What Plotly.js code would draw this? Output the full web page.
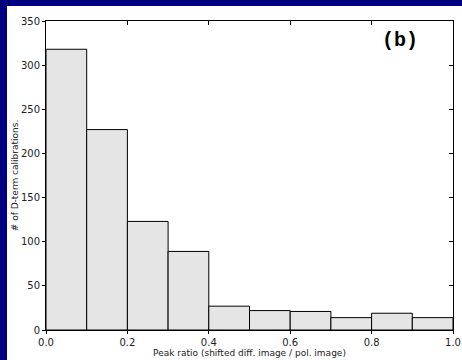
<!DOCTYPE html>
<html>
<head>
<meta charset="utf-8">
<script src="https://cdn.plot.ly/plotly-3.0.1.min.js"></script>
<style>html,body{margin:0;padding:0;background:#000080;}#chart{width:462px;height:360px;}</style>
</head>
<body>
<div id="chart"></div>
<script>
const binCenters = [0.05, 0.15, 0.25, 0.35, 0.45, 0.55, 0.65, 0.75, 0.85, 0.95];
const counts = [318, 227, 123, 89, 27, 22, 21, 14, 19, 14];
const xTicks = [0.0, 0.2, 0.4, 0.6, 0.8, 1.0];
const xTickText = ['0.0', '0.2', '0.4', '0.6', '0.8', '1.0'];
const yTicks = [0, 50, 100, 150, 200, 250, 300, 350];
const panelLabel = '(b)';
const xTitle = 'Peak ratio (shifted diff. image / pol. image)';
const yTitle = '# of D-term calibrations.';

const tickFont = {family: 'DejaVu Sans', size: 10, color: '#222'};
const data = [
  {type: 'bar', x: binCenters, y: counts, width: 0.1,
   marker: {color: '#e5e5e5', line: {color: '#000', width: 1}}, hoverinfo: 'none'},
  {type: 'scatter', x: [], y: [], xaxis: 'x2', yaxis: 'y2', showlegend: false}
];
const layout = {
  width: 462, height: 360,
  paper_bgcolor: '#000080', plot_bgcolor: '#ffffff',
  margin: {l: 46, r: 9, t: 21, b: 30},
  showlegend: false, bargap: 0,
  shapes: [{type: 'rect', xref: 'paper', yref: 'paper', layer: 'below',
    x0: -39/407, x1: 1 + 10/407, y0: -31/309, y1: 1 + 15/309,
    fillcolor: '#ffffff', line: {width: 0}}],
  xaxis: {range: [0, 1], tickvals: xTicks, ticktext: xTickText, ticks: 'outside', ticklen: 3,
    tickcolor: '#000', showline: true, linecolor: '#000', linewidth: 1, mirror: true,
    showgrid: false, zeroline: false, tickfont: tickFont,
    title: {text: xTitle, font: {family: 'DejaVu Sans', size: 9, color: '#222'}, standoff: 0}},
  yaxis: {range: [0, 350], tickvals: yTicks, ticks: 'outside', ticklen: 3, tickcolor: '#000',
    showline: true, linecolor: '#000', linewidth: 1, mirror: true,
    showgrid: false, zeroline: false, tickfont: tickFont,
    title: {text: yTitle, font: {family: 'DejaVu Sans', size: 9, color: '#222'}, standoff: 0}},
  xaxis2: {range: [0, 1], overlaying: 'x', side: 'top', tickvals: xTicks, ticks: 'inside',
    ticklen: 4, tickcolor: '#000', showticklabels: false, showgrid: false, zeroline: false, showline: false},
  yaxis2: {range: [0, 350], overlaying: 'y', side: 'right', tickvals: yTicks, ticks: 'inside',
    ticklen: 4, tickcolor: '#000', showticklabels: false, showgrid: false, zeroline: false, showline: false},
  annotations: [{text: '<b>' + panelLabel + '</b>', xref: 'x', yref: 'y', x: 0.87, y: 328,
    showarrow: false, font: {family: 'Liberation Mono', size: 20, color: '#000'}}]
};
Plotly.newPlot('chart', data, layout, {staticPlot: true, displayModeBar: false});
</script>
</body>
</html>
